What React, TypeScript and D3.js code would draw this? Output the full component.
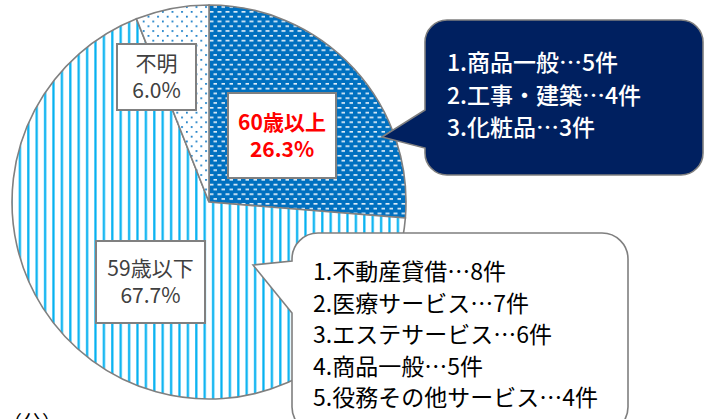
import React from 'react';
import * as d3 from 'd3';

const categories = ['60歳以上', '59歳以下', '不明'];
const shares = [26.3, 67.7, 6.0];
const shareLabels = ['26.3%', '67.7%', '6.0%'];

const elderItems = ['1.商品一般…5件', '2.工事・建築…4件', '3.化粧品…3件'];
const youngerItems = [
  '1.不動産貸借…8件',
  '2.医療サービス…7件',
  '3.エステサービス…6件',
  '4.商品一般…5件',
  '5.役務その他サービス…4件',
];

const width = 706;
const height = 419;
const cx = 209;
const cy = 202;
const radius = 197;
const font = '"Noto Sans CJK JP", "Noto Sans", sans-serif';

// label boxes placed by hand, as in the original sheet
const labelBoxes = [
  { x: 228, y: 93, w: 108, h: 85, color: '#FF0000', weight: 700 },
  { x: 96, y: 241, w: 109, h: 82, color: '#404040', weight: 400 },
  { x: 117, y: 44, w: 79, h: 66, color: '#404040', weight: 400 },
];
const fills = ['url(#pat60)', 'url(#pat59)', 'url(#patNA)'];

// rounded box with a pointer on its left side
function calloutPath(
  x: number, y: number, w: number, h: number, r: number,
  tip: [number, number], b1: number, b2: number
) {
  const p = d3.path();
  p.moveTo(x + r, y);
  p.lineTo(x + w - r, y);
  p.arcTo(x + w, y, x + w, y + r, r);
  p.lineTo(x + w, y + h - r);
  p.arcTo(x + w, y + h, x + w - r, y + h, r);
  p.lineTo(x + r, y + h);
  p.arcTo(x, y + h, x, y + h - r, r);
  p.lineTo(x, b2);
  p.lineTo(tip[0], tip[1]);
  p.lineTo(x, b1);
  p.lineTo(x, y + r);
  p.arcTo(x, y, x + r, y, r);
  p.closePath();
  return p.toString();
}

const App: React.FC = () => {
  const pie = d3.pie<number>().sort(null).value((d) => d);
  const arcs = pie(shares);
  const arc = d3.arc<d3.PieArcDatum<number>>().innerRadius(0).outerRadius(radius);

  return (
    <div style={{ position: 'absolute', left: 0, top: 0 }}>
      <svg width={width} height={height} style={{ display: 'block', background: '#fff' }}>
        <defs>
          <pattern id="pat60" width={8} height={9.6} patternUnits="userSpaceOnUse">
            <rect width={8} height={9.6} fill="#0070C0" />
            <rect x={0.5} y={1} width={4} height={1.6} fill="#fff" opacity={0.92} />
            <rect x={4.5} y={5.8} width={4} height={1.6} fill="#fff" opacity={0.92} />
          </pattern>
          <pattern id="pat59" width={8.4} height={10} patternUnits="userSpaceOnUse">
            <rect width={8.4} height={10} fill="#fff" />
            <rect x={3} width={2.2} height={10} fill="#00B0F0" />
          </pattern>
          <pattern id="patNA" width={9.6} height={9.6} patternUnits="userSpaceOnUse">
            <rect width={9.6} height={9.6} fill="#fff" />
            <rect x={1} y={1} width={1.7} height={1.7} fill="#0070C0" />
            <rect x={5.8} y={5.8} width={1.7} height={1.7} fill="#0070C0" />
          </pattern>
        </defs>

        <g transform={`translate(${cx},${cy})`}>
          {arcs.map((a, i) => (
            <path key={categories[i]} d={arc(a) || ''} fill={fills[i]} stroke="#808080" strokeWidth={1.6} />
          ))}
        </g>

        {labelBoxes.map((b, i) => (
          <g key={categories[i]}>
            <rect x={b.x} y={b.y} width={b.w} height={b.h} fill="#fff" stroke="#808080" strokeWidth={2} />
            <text
              x={b.x + b.w / 2}
              y={b.y + b.h / 2 - 6}
              textAnchor="middle"
              fontFamily={font}
              fontSize={21}
              fontWeight={b.weight}
              fill={b.color}
            >
              {categories[i]}
            </text>
            <text
              x={b.x + b.w / 2}
              y={b.y + b.h / 2 + 21}
              textAnchor="middle"
              fontFamily={font}
              fontSize={21}
              fontWeight={b.weight}
              fill={b.color}
            >
              {shareLabels[i]}
            </text>
          </g>
        ))}

        <path
          d={calloutPath(425, 20, 278, 155, 22, [382, 137], 110, 148)}
          fill="#002060"
          stroke="#7F7F7F"
          strokeWidth={1.6}
        />
        {elderItems.map((t, i) => (
          <text key={t} x={447} y={71 + i * 32.5} fontFamily={font} fontSize={23} fontWeight={500} fill="#fff">
            {t}
          </text>
        ))}

        <path
          d={calloutPath(292, 233, 336, 200, 26, [253, 265], 261, 313)}
          fill="#fff"
          stroke="#7F7F7F"
          strokeWidth={1.6}
        />
        {youngerItems.map((t, i) => (
          <text key={t} x={313} y={280 + i * 31.5} fontFamily={font} fontSize={23} fill="#000">
            {t}
          </text>
        ))}

        <text x={2} y={430} fontFamily={font} fontSize={20} fill="#000">
          （公）
        </text>
      </svg>
    </div>
  );
};

export default App;
